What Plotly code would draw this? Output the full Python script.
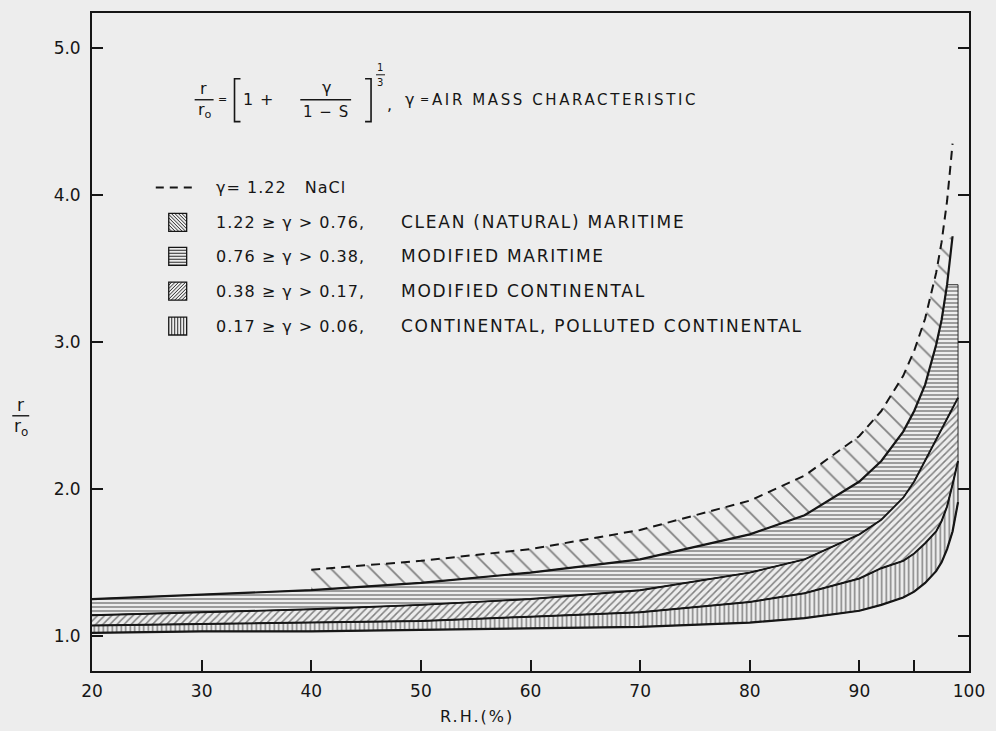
import plotly.graph_objects as go

# ---------------- data ----------------
RH = [20, 30, 40, 50, 60, 70, 80, 85, 90, 92, 94, 95, 96, 97, 97.5, 98, 98.5, 99]
r_nacl = [None, None, 1.45, 1.51, 1.59, 1.72, 1.92, 2.09, 2.36, 2.53, 2.77, 2.94, 3.16, 3.47, 3.68, 3.96, 4.35, None]
r_g076 = [1.25, 1.28, 1.31, 1.36, 1.43, 1.52, 1.69, 1.82, 2.05, 2.19, 2.39, 2.53, 2.71, 2.98, 3.15, 3.39, 3.72, None]
r_g038 = [1.14, 1.16, 1.18, 1.21, 1.25, 1.31, 1.43, 1.52, 1.69, 1.79, 1.94, 2.05, 2.19, 2.33, 2.40, 2.48, 2.55, 2.62]
r_g017 = [1.07, 1.08, 1.09, 1.10, 1.13, 1.16, 1.23, 1.29, 1.39, 1.46, 1.51, 1.56, 1.63, 1.71, 1.78, 1.88, 2.03, 2.19]
r_g006 = [1.02, 1.03, 1.03, 1.04, 1.05, 1.06, 1.09, 1.12, 1.17, 1.21, 1.26, 1.30, 1.36, 1.44, 1.50, 1.59, 1.71, 1.91]

x_tickvals = [20, 30, 40, 50, 60, 70, 80, 90, 100]
x_ticktext = ["20", "30", "40", "50", "60", "70", "80", "90", "100"]
x_minor_ticks = [95]
y_tickvals = [1, 2, 3, 4, 5]
y_ticktext = ["1.0", "2.0", "3.0", "4.0", "5.0"]

band_ranges = ["1.22 ≥ γ > 0.76,", "0.76 ≥ γ > 0.38,", "0.38 ≥ γ > 0.17,", "0.17 ≥ γ > 0.06,"]
band_names = ["CLEAN (NATURAL) MARITIME", "MODIFIED MARITIME", "MODIFIED CONTINENTAL",
              "CONTINENTAL, POLLUTED CONTINENTAL"]
nacl_label = "γ= 1.22\u00a0\u00a0\u00a0NaCl"

# ---------------- styling ----------------
FONT = "DejaVu Sans"
INK = "#161616"
BG = "#ededed"
W, H = 996, 731
ML, MR, MT, MB = 92, 24, 11, 60
PW, PH = W - ML - MR, H - MT - MB


def px(x):
    return (x - ML) / PW


def py(y):
    return (H - MB - y) / PH


def ls(text, sp):
    return f'<span style="letter-spacing:{sp}px">{text}</span>'


fig = go.Figure()

patterns = [
    dict(shape="\\", size=14, solidity=0.13),
    dict(shape="-", size=4, solidity=0.38),
    dict(shape="/", size=5, solidity=0.3),
    dict(shape="|", size=4.5, solidity=0.34),
]

# band polygons (top boundary forward, bottom boundary backwards)
clean_x = RH[2:15] + RH[2:17][::-1]
clean_y = r_nacl[2:15] + r_g076[2:17][::-1]
mm_x = RH[0:16] + [RH[17]] + RH[::-1]
mm_y = r_g076[0:16] + [r_g076[15]] + r_g038[::-1]
mc_x = RH + RH[::-1]
mc_y = r_g038 + r_g017[::-1]
co_x = RH + RH[::-1]
co_y = r_g017 + r_g006[::-1]

polys = [(clean_x, clean_y, 0), (mm_x, mm_y, 0.9), (mc_x, mc_y, 0.9), (co_x, co_y, 0.9)]
for (xs, ys, lw), pat in zip(polys, patterns):
    fig.add_trace(go.Scatter(
        x=xs, y=ys, mode="lines", fill="toself",
        fillcolor="rgba(0,0,0,0)",
        line=dict(color=INK, width=lw),
        fillpattern=dict(shape=pat["shape"], size=pat["size"], solidity=pat["solidity"],
                         fgcolor=INK, bgcolor="rgba(0,0,0,0)", fillmode="overlay"),
        showlegend=False, hoverinfo="skip"))

# boundary curves
fig.add_trace(go.Scatter(x=RH[2:17], y=r_nacl[2:17], mode="lines",
                         line=dict(color=INK, width=2, dash="9px,6px"),
                         showlegend=False, hoverinfo="skip"))
for xs, ys, w in [(RH[:17], r_g076[:17], 2.2), (RH, r_g038, 1.9), (RH, r_g017, 2.0), (RH, r_g006, 2.2)]:
    fig.add_trace(go.Scatter(x=xs, y=ys, mode="lines", line=dict(color=INK, width=w),
                             showlegend=False, hoverinfo="skip"))

annotations = []
shapes = []


def text(x, y, t, size=16, anchor="center", spacing=None):
    if spacing:
        t = ls(t, spacing)
    annotations.append(dict(x=px(x), y=py(y), xref="paper", yref="paper", text=t,
                            showarrow=False, xanchor=anchor, yanchor="middle",
                            font=dict(family=FONT, size=size, color=INK)))


def seg(x0, y0, x1, y1, w=1.4, dash="solid"):
    shapes.append(dict(type="line", xref="paper", yref="paper",
                       x0=px(x0), x1=px(x1), y0=py(y0), y1=py(y1),
                       line=dict(color=INK, width=w, dash=dash)))


def path(points, w=1.6):
    d = "M " + " L ".join(f"{px(a):.5f},{py(b):.5f}" for a, b in points)
    shapes.append(dict(type="path", xref="paper", yref="paper", path=d,
                       line=dict(color=INK, width=w)))


# ---- y-axis label r / r0
text(20, 404, "r", 17)
seg(12, 415, 29, 415)
text(21, 427, "r<sub>o</sub>", 17)

# ---- x-axis label
text(478, 717, "R.H.(%)", 16, spacing=2)

# ---- formula
text(204, 87, "r", 16)
seg(195, 98, 214, 98)
text(205, 109, "r<sub>o</sub>", 16)
text(223, 98, "=", 11)
path([(241, 77), (235, 77), (235, 120), (241, 120)])
text(249, 98, "1", 16)
text(267, 98, "+", 16)
text(327, 86, "γ", 16)
seg(301, 98, 352, 98)
text(327, 110, "1 − S", 15, spacing=1)
path([(366, 77), (372, 77), (372, 120), (366, 120)])
text(381, 66, "1", 10)
seg(377, 73, 386, 73, 1)
text(381, 81, "3", 10)
text(391, 103, ",", 16)
text(404, 98, "γ", 16, anchor="left")
text(419, 98, "=", 11, anchor="left")
text(431, 98, "AIR MASS CHARACTERISTIC", 15, anchor="left", spacing=2.6)

# ---- legend (drawn by hand)
row_y = [186, 221, 255, 290, 325]
seg(156, row_y[0], 198, row_y[0], 2, "8px,6px")
text(214, row_y[0], nacl_label, 16, anchor="left", spacing=1)

hatch = ["\\", "-", "/", "|"]
SQ_X0, SQ_X1 = 169, 187
for i, (rng, nm, hs) in enumerate(zip(band_ranges, band_names, hatch)):
    yc = row_y[i + 1]
    y0, y1 = yc - 9, yc + 9
    shapes.append(dict(type="rect", xref="paper", yref="paper",
                       x0=px(SQ_X0), x1=px(SQ_X1), y0=py(y0), y1=py(y1),
                       line=dict(color=INK, width=1.3)))
    step = 3
    if hs == "-":
        yy = y0 + step
        while yy < y1 - 0.5:
            seg(SQ_X0, yy, SQ_X1, yy, 0.9)
            yy += step
    elif hs == "|":
        xx = SQ_X0 + step
        while xx < SQ_X1 - 0.5:
            seg(xx, y0, xx, y1, 0.9)
            xx += step
    elif hs == "\\":
        c = SQ_X0 - y1 + 3
        while c < SQ_X1 - y0:
            xa, xb = max(SQ_X0, y0 + c), min(SQ_X1, y1 + c)
            if xb - xa > 0.5:
                seg(xa, xa - c, xb, xb - c, 0.9)
            c += 3.5
    else:  # "/"
        c = SQ_X0 + y0 + 3
        while c < SQ_X1 + y1:
            xa, xb = max(SQ_X0, c - y1), min(SQ_X1, c - y0)
            if xb - xa > 0.5:
                seg(xa, c - xa, xb, c - xb, 0.9)
            c += 3.5
    text(214, yc, rng, 16, anchor="left", spacing=1)
    text(400, yc, nm, 17, anchor="left", spacing=1.75)

fig.update_layout(
    width=W, height=H,
    margin=dict(l=ML, r=MR, t=MT, b=MB),
    paper_bgcolor=BG, plot_bgcolor=BG,
    font=dict(family=FONT, size=16, color=INK),
    showlegend=False,
    annotations=annotations,
    shapes=shapes,
    xaxis=dict(range=[20, 100], tickvals=x_tickvals, ticktext=x_ticktext,
               ticks="inside", ticklen=11, tickwidth=1.5, tickcolor=INK,
               minor=dict(tickvals=x_minor_ticks, ticks="inside", ticklen=11,
                          tickwidth=1.5, tickcolor=INK, showgrid=False),
               showline=True, linecolor=INK, linewidth=1.8, mirror=True,
               showgrid=False, zeroline=False, ticklabelstandoff=4,
               tickfont=dict(family=FONT, size=17, color=INK)),
    yaxis=dict(range=[0.76, 5.24], tickvals=y_tickvals, ticktext=y_ticktext,
               ticks="inside", ticklen=11, tickwidth=1.5, tickcolor=INK,
               showline=True, linecolor=INK, linewidth=1.8, mirror="ticks",
               showgrid=False, zeroline=False, ticklabelstandoff=6,
               tickfont=dict(family=FONT, size=17, color=INK)),
)

fig.write_html("out.html",
               config={"displayModeBar": False},
               post_script="document.body.style.margin='0px';"
                           "document.body.style.background='#ededed';")
